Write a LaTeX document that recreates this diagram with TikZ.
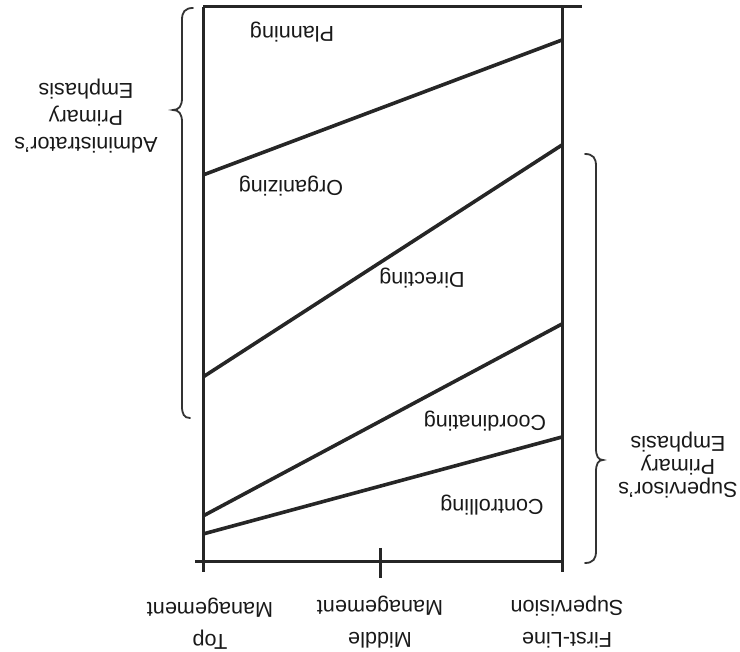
\documentclass[tikz,border=0pt]{standalone}
\usepackage{fontspec}
\setmainfont{Liberation Sans}
\begin{document}
\begin{tikzpicture}[x=0.5pt,y=-0.5pt,
  frame/.style={line width=1.5pt,draw=black!85},
  band/.style={line width=1.8pt,draw=black!85},
  brace/.style={line width=0.9pt,draw=black!80,line cap=round},
  lbl/.style={rotate=180,inner sep=0pt,font=\fontsize{10.8}{14}\selectfont,text=black!90},
  mlbl/.style={lbl,align=center}]
\useasboundingbox (0,0) rectangle (740,652);
% axis frame
\coordinate (tl) at (203,7);
\coordinate (tr) at (582,7);
\coordinate (rt) at (562,7);
\coordinate (lb) at (203,572);
\coordinate (rb) at (562,572);
\coordinate (ax0) at (195,562);
\coordinate (ax1) at (562,562);
\coordinate (mt0) at (380,548);
\coordinate (mt1) at (380,578);
\draw[frame] (tl) -- (tr);
\draw[frame] (tl) -- (lb);
\draw[frame] (rt) -- (rb);
\draw[frame] (ax0) -- (ax1);
\draw[frame] (mt0) -- (mt1);
% boundaries between functions
\coordinate (a0) at (203,175); \coordinate (a1) at (562,40);
\coordinate (b0) at (203,377); \coordinate (b1) at (562,145);
\coordinate (c0) at (203,516); \coordinate (c1) at (562,324);
\coordinate (d0) at (203,534); \coordinate (d1) at (562,437);
\draw[band] (a0) -- (a1);
\draw[band] (b0) -- (b1);
\draw[band] (c0) -- (c1);
\draw[band] (d0) -- (d1);
% function names
\node[lbl] (planning) at (292,32) {Planning};
\node[lbl] (organizing) at (291,186) {Organizing};
\node[lbl] (directing) at (422,278) {Directing};
\node[lbl] (coordinating) at (485,421) {Coordinating};
\node[lbl] (controlling) at (492,505) {Controlling};
% levels
\node[mlbl,font=\fontsize{10.8}{16}\selectfont] (top) at (210,624) {Top\\Management};
\node[mlbl,font=\fontsize{10.8}{16}\selectfont] (middle) at (380,622) {Middle\\Management};
\node[mlbl,font=\fontsize{10.8}{16}\selectfont] (first) at (567,622) {First-Line\\Supervision};
% emphasis braces
\draw[brace] (193,8) .. controls (185,8) and (182,12) .. (182,20) -- (182,98)
  .. controls (182,106) and (179,110) .. (173,110)
  .. controls (179,110) and (182,114) .. (182,122) -- (182,406)
  .. controls (182,414) and (184,418) .. (190,418);
\draw[brace] (585,154) .. controls (593,154) and (596,158) .. (596,166) -- (596,448)
  .. controls (596,456) and (598,460) .. (603,460)
  .. controls (598,460) and (596,464) .. (596,472) -- (596,551)
  .. controls (596,559) and (593,563) .. (585,563);
\node[mlbl,font=\fontsize{10.8}{13.5}\selectfont] (admin) at (86,116) {Administrator's\\Primary\\Emphasis};
\node[mlbl,font=\fontsize{10.8}{11.5}\selectfont] (super) at (678,465) {Supervisor's\\Primary\\Emphasis};
\end{tikzpicture}
\end{document}
